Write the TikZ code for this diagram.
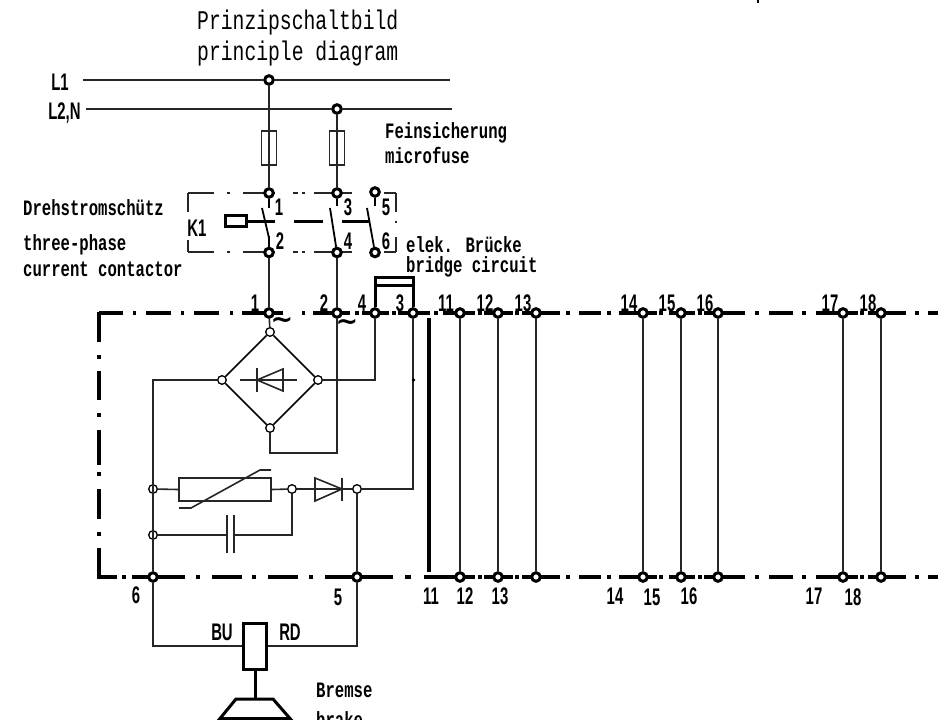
\documentclass[tikz,border=0pt]{standalone}
\usepackage{fontspec}
\setmainfont{Liberation Sans}
\newfontfamily\titlefont[FakeStretch=0.73]{Liberation Mono}
\newfontfamily\labfont[FakeStretch=0.71,BoldFont={Liberation Mono Bold}]{Liberation Mono}
\newfontfamily\numfont[FakeStretch=0.62,BoldFont={Liberation Sans Bold}]{Liberation Sans}
\newfontfamily\tildefont{DejaVu Sans Bold}
\tikzset{
  wire/.style={line width=1.6pt,black!85},
  frameline/.style={line width=3.4pt,black},
  boxline/.style={line width=1.3pt,black!85},
  ko/.style={circle,draw=black,fill=white,line width=3pt,minimum size=8.6pt,inner sep=0pt},
  kw/.style={circle,draw=black,fill=white,line width=1.3pt,minimum size=8.6pt,inner sep=0pt},
  ttl/.style={font=\titlefont\fontsize{27}{27}\selectfont,inner sep=0pt,anchor=base west},
  lab/.style={font=\labfont\bfseries\fontsize{22}{22}\selectfont,inner sep=0pt,anchor=base west},
  num/.style={font=\numfont\bfseries\fontsize{24}{24}\selectfont,inner sep=0pt,anchor=base},
  fuse/.style={draw=black!85,line width=1.1pt,fill=white,minimum width=15pt,minimum height=34pt,inner sep=0pt},
  sw/.style={line width=1.8pt},
  stub/.style={line width=2.8pt},
  link/.style={line width=3pt},
  tilde/.style={font=\tildefont\fontsize{27}{27}\selectfont,inner sep=0pt,anchor=base},
}
\begin{document}
\begin{tikzpicture}[x=1pt,y=-1pt]
\useasboundingbox (0,0) rectangle (938,720);
\clip (0,0) rectangle (938,720);
\fill[white] (0,0) rectangle (938,720);
% cut-off mark at the top edge
\draw[line width=1.6pt] (758,0)--(758,3);
% titles and labels
\node[ttl] (t1) at (197,30) {Prinzipschaltbild};
\node[ttl] (t2) at (197,60) {principle diagram};
\node[num] (L1) at (60,90) {L1};
\node[num] (L2) at (64.5,119) {L2,N};
\node[lab] (tf1) at (385,138) {Feinsicherung};
\node[lab] (tf2) at (385,163) {microfuse};
\node[lab] (td1) at (23,215) {Drehstromschütz};
\node[lab] (td2) at (23,250) {three-phase};
\node[lab] (td3) at (23,276) {current contactor};
\node[lab] (te1) at (406,252) {elek. Brücke};
\node[lab] (te2) at (406,272) {bridge circuit};
\node[lab] (tb1) at (316,697) {Bremse};
\node[lab] (tb2) at (316,727) {brake};
\node[num] (tk) at (197,236) {K1};
\node[num] (tbu) at (222,640) {BU};
\node[num] (trd) at (290,640) {RD};
\foreach \l/\x/\y in {1/279/215,2/280/249,3/348/215,4/348/249,5/386/215,6/386/249}
  \node[num] at (\x,\y) {\l};
\foreach \l/\x in {1/255,2/324,4/362,3/400,11/446,12/485,13/523,14/629,15/667,16/705,17/830,18/868}
  \node[num] at (\x,311) {\l};
\foreach \l/\x/\y in {6/136/603,5/338/605,11/431/604,12/465/604,13/500/604,14/615/604,15/652/605,16/689/604,17/814/604,18/853/605}
  \node[num] at (\x,\y) {\l};
% frame: top edge
\foreach \a/\b in {99/123,133/136,146/171,181/184,194/219,230/233,242/283,302/305,313/350,355/359,362/389,392/396,398/430,434/438,443/475,478/482,484/513,515/519,522/560,566/570,579/601,607/611,619/657,659/663,669/695,698/702,704/745,755/759,769/793,802/806,816/858,860/864,868/906,915/919,928/938}
  \draw[frameline] (\a,313)--(\b,313);
% frame: bottom edge
\foreach \a/\b in {99/117,122/126,132/185,196/200,212/242,252/256,268/298,309/313,325/393,405/411,424/475,478/482,484/513,515/519,522/560,566/570,579/601,607/611,619/657,659/663,669/695,698/702,704/745,755/759,769/793,802/806,816/858,860/864,868/906,915/919,928/938}
  \draw[frameline] (\a,577)--(\b,577);
% frame: left edge
\foreach \a/\b in {311.5/342,355/359,371/400,413/417,430/465,472/476,489/519,532/536,548/578.7}
  \draw[frameline] (99,\a)--(99,\b);
% the two ~ marks
\node[tilde] (tl1) at (282,328) {∼};
\node[tilde] (tl2) at (347,330) {∼};
% contactor box
\foreach \a/\b in {188/214,227/230,243/275,293/298,302/305,314/352,384/396}{
  \draw[boxline] (\a,193)--(\b,193);
  \draw[boxline] (\a,252)--(\b,252);}
\draw[boxline] (188,193)--(188,212) (188,240)--(188,252);
\draw[boxline] (396,193)--(396,212) (396,221)--(396,223) (396,237)--(396,252);
% nodes
\node[ko] (n1) at (269,80) {};
\node[ko] (n2) at (337,109) {};
\node[fuse] (f1) at (269,148) {};
\node[fuse] (f2) at (337,148) {};
\node[ko] (a1) at (269,193) {};
\node[ko] (a3) at (337,193) {};
\node[ko] (a5) at (375,192) {};
\node[ko] (b1) at (269,252.5) {};
\node[ko] (b3) at (337,252.5) {};
\node[ko] (b5) at (375,252.5) {};
\node[ko] (p1) at (269,313) {};
\node[ko] (p2) at (337,313) {};
\node[ko] (p4) at (375,313) {};
\node[ko] (p3) at (413,313) {};
\foreach \n/\x in {u11/460,u12/498,u13/536,u14/643,u15/681,u16/718,u17/843,u18/881}{
  \node[ko] (\n) at (\x,313) {};}
\foreach \n/\x in {d11/460,d12/498,d13/536,d14/643,d15/681,d16/718,d17/843,d18/881}{
  \node[ko] (\n) at (\x,577) {};}
\node[ko] (q6) at (153,577) {};
\node[ko] (q5) at (357,577) {};
\node[kw] (dt) at (270,332) {};
\node[kw] (dl) at (222,380) {};
\node[kw] (dr) at (318,380) {};
\node[kw] (db) at (270,428) {};
\node[kw] (j1) at (153,489) {};
\node[kw] (j2) at (153,535) {};
\node[kw] (j3) at (292,489) {};
\node[kw] (j4) at (357,489) {};
\node[draw=black!85,line width=1.7pt,minimum width=92pt,minimum height=23pt,inner sep=0pt] (var) at (225,489.5) {};
\node[draw=black,line width=3pt,minimum width=21pt,minimum height=11pt,inner sep=0pt] (coil) at (236,221) {};
\node[draw=black,line width=3pt,fill=white,minimum width=23pt,minimum height=46pt,inner sep=0pt] (brk) at (255,646) {};
\coordinate (v1) at (153,380);
\coordinate (v2) at (357,646);
\coordinate (v3) at (153,646);
% feed wires
\draw[wire] (83,80)--(n1) (n1)--(450,80);
\draw[wire] (86,109)--(n2) (n2)--(452,109);
\draw[wire] (n1)--(f1) (f1)--(a1) (b1)--(p1);
\draw[wire] (n2)--(f2) (f2)--(a3) (b3)--(p2);
\draw[wire,line width=1.1pt] (f1.north)--(f1.south) (f2.north)--(f2.south);
% bridge circuit link
\draw[line width=3pt] (p4)--(375,277)--(413,277)--(p3);
\draw[line width=2.4pt] (375,285.5)--(413,285.5);
% contacts
\draw[stub] (a1)--(269,208) (a3)--(337,206) (a5)--(375,206);
\draw[sw] (262,208)--(269,238) (330,208)--(b3) (367,208)--(b5);
\draw[stub] (269,236)--(b1);
\draw[link] (coil.east)--(275,221) (294,221)--(323,221) (342,221)--(370,221);
% rectifier
\draw[line width=1.7pt] (dt)--(dr)--(db)--(dl)--(dt);
\draw[wire] (dl)-|(q6);
\draw[wire] (dr)-|(p4);
\draw[wire] (p1)--(dt);
\draw[wire] (db)|-(270,453)-|(p2);
\draw[wire] (240,380)--(297,380);
\draw[wire] (283,369)--(257,380)--(283,391)--cycle;
\draw[wire] (257,368)--(257,392);
% varistor and diode
\draw[wire] (p3)|-(j4);
\fill (413.5,380) circle (1.8pt);
\draw[wire] (j1)--(var.west) (var.east)--(j3);
\draw[wire] (179,508)--(191,508)--(260,470)--(271,470);
\draw[wire] (j3)--(j4);
\draw[wire] (315,478)--(342,489)--(315,501)--cycle;
\draw[wire] (342,477.5)--(342,501);
% capacitor
\coordinate (cl) at (227,535);
\coordinate (cr) at (234,535);
\draw[wire] (j2)--(cl) (cr)-|(j3);
\draw[wire] (cl)+(0,-20)--+(0,18);
\draw[wire] (cr)+(0,-20)--+(0,18);
% outputs
\draw[wire] (q6)--(j2)--(j1)--(v1);
\draw[wire] (q6)--(v3)--(brk.west);
\draw[wire] (j4)--(q5)--(v2)--(brk.east);
% through wires
\draw[wire] (u11)--(d11) (u12)--(d12) (u13)--(d13) (u14)--(d14) (u15)--(d15) (u16)--(d16) (u17)--(d17) (u18)--(d18);
\draw[line width=3.2pt] (429,318)--(429,572);
% brake
\coordinate (stem) at (255,699);
\draw[line width=3pt] (brk.south)--(stem);
\draw[line width=3pt] (220,718.5)--(236,699)--(273,699)--(290,718.5)--cycle;
\end{tikzpicture}
\end{document}
